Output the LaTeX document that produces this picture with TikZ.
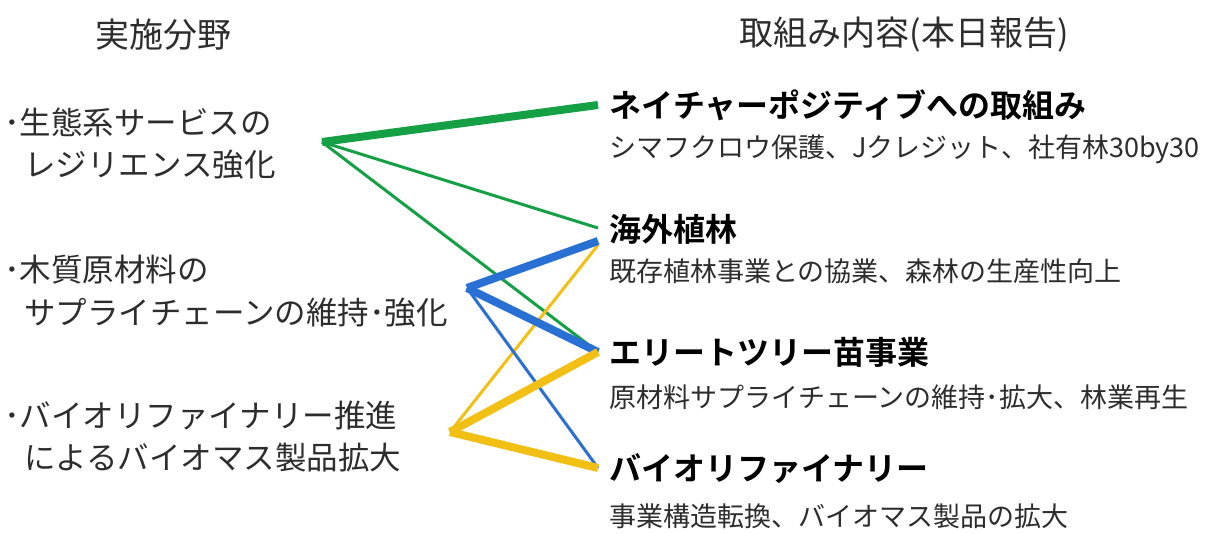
\documentclass[tikz,border=0pt]{standalone}
\usepackage{fontspec}
\setmainfont{Noto Sans CJK JP}
\newfontfamily\jp{Noto Sans CJK JP}
\newfontfamily\jpb{Noto Sans CJK JP Bold}
\definecolor{lgreen}{RGB}{22,160,70}
\definecolor{lblue}{RGB}{40,112,212}
\definecolor{lyellow}{RGB}{242,192,20}
\definecolor{txt}{RGB}{45,45,45}
\tikzset{
  head/.style={font=\jp\fontsize{34}{37}\selectfont, text=txt, inner sep=0pt},
  left/.style={font=\jp\fontsize{31.5}{34}\selectfont, text=txt, inner sep=0pt, anchor=west},
  ttl/.style={font=\jpb\fontsize{32}{35}\selectfont, text=black, inner sep=0pt, anchor=west},
  sub/.style={font=\jp\fontsize{27}{30}\selectfont, text=txt, inner sep=0pt, anchor=west},
  thick line/.style={line width=8pt},
  thin line/.style={line width=3pt},
}
\begin{document}
\begin{tikzpicture}[x=1pt,y=-1pt]
\useasboundingbox (0,0) rectangle (1227,534);
\fill[white] (0,0) rectangle (1227,534);
% headings
\node[head] (h1) at (163,35) {実施分野};
\node[head] (h2) at (904,35) {取組み内容(本日報告)};
% left items
\node[left] (l1a) at (4,122) {･生態系サービスの};
\node[left] (l1b) at (24,165) {レジリエンス強化};
\node[left] (l2a) at (4,270) {･木質原材料の};
\node[left] (l2b) at (24,313) {サプライチェーンの維持･強化};
\node[left] (l3a) at (4,415) {･バイオリファイナリー推進};
\node[left] (l3b) at (24,458) {によるバイオマス製品拡大};
% right items
\node[ttl] (r1) at (609,105) {ネイチャーポジティブへの取組み};
\node[sub] (r1s) at (609,149) {シマフクロウ保護、Jクレジット、社有林30by30};
\node[ttl] (r2) at (609,229) {海外植林};
\node[sub] (r2s) at (609,271) {既存植林事業との協業、森林の生産性向上};
\node[ttl] (r3) at (609,352) {エリートツリー苗事業};
\node[sub] (r3s) at (609,397) {原材料サプライチェーンの維持･拡大、林業再生};
\node[ttl] (r4) at (609,469) {バイオリファイナリー};
\node[sub] (r4s) at (609,516) {事業構造転換、バイオマス製品の拡大};
% hubs and ends
\coordinate (g) at (322,142);
\coordinate (b) at (467,288);
\coordinate (y) at (450,432);
\coordinate (e1) at (598,105);
\coordinate (e2g) at (598,228);
\coordinate (e2b) at (598,241);
\coordinate (e2y) at (598,245);
\coordinate (e3) at (598,352);
\coordinate (e4) at (598,468);
% connectors
\draw[lgreen, thin line] (g) -- (e2g);
\draw[lgreen, thin line] (g) -- (e3);
\draw[lyellow, thin line] (y) -- (e2y);
\draw[lblue, thin line] (b) -- (e4);
\draw[lblue, thick line] (b) -- (e2b);
\draw[lblue, thick line] (b) -- (e3);
\draw[lyellow, thick line] (y) -- (e3);
\draw[lyellow, thick line] (y) -- (e4);
\draw[lgreen, thick line] (g) -- (e1);
\end{tikzpicture}
\end{document}
